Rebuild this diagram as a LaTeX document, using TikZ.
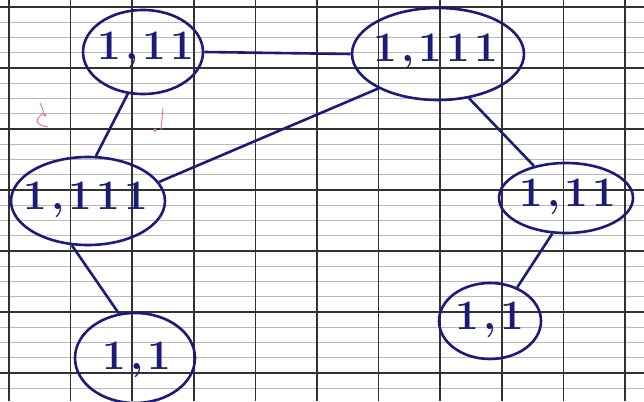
\documentclass[tikz,border=0pt]{standalone}
\usetikzlibrary{shapes.geometric}
\definecolor{ink}{RGB}{28,28,120}
\definecolor{rule}{RGB}{50,50,50}
\definecolor{fine}{RGB}{185,185,185}
\definecolor{redink}{RGB}{215,120,125}
\tikzset{
  vertex/.style={draw=ink, line width=2.6pt, ellipse, inner sep=0pt},
  vlabel/.style={text=ink, inner sep=0pt, font=\fontsize{42}{42}\selectfont\bfseries},
  edge/.style={draw=ink, line width=2.6pt},
}
\newcommand{\sep}{\kern0.1em}
\begin{document}
\begin{tikzpicture}[x=1pt,y=-1pt]
  \useasboundingbox (0,0) rectangle (644,401);
  \fill[white] (0,0) rectangle (644,401);
  % Seyes ruling: fine horizontal lines every 15.25, bold every fourth
  \foreach \k in {0,...,27} {
    \draw[fine, line width=0.6pt] (0,{7+15.25*\k-15.25}) -- (644,{7+15.25*\k-15.25});
  }
  \foreach \k in {0,...,6} {
    \draw[rule, line width=1.5pt] (0,{7+61*\k}) -- (644,{7+61*\k});
  }
  \foreach \k in {0,...,10} {
    \draw[rule, line width=1.5pt] ({9+61.6*\k},0) -- ({9+61.6*\k},401);
  }
  % faint red marks
  \draw[redink, line width=0.9pt] (40,103) .. controls (42,108) and (44,110) .. (43,114)
        .. controls (35,118) and (34,125) .. (48,127);
  \fill[redink] (45,115) circle (1.6);
  \draw[redink, line width=0.9pt] (163,108) -- (161,130);
  \fill[redink] (155,130) circle (1.8);

  % vertices (outline) and their labels
  \node[vertex, minimum width=120pt, minimum height=84pt] (a) at (143,52) {};
  \node[vertex, minimum width=172pt, minimum height=92pt] (b) at (438,54) {};
  \node[vertex, minimum width=154pt, minimum height=88pt] (c) at (88,201) {};
  \node[vertex, minimum width=134pt, minimum height=70pt] (d) at (566,198) {};
  \node[vertex, minimum width=120pt, minimum height=90pt] (e) at (135,358) {};
  \node[vertex, minimum width=102pt, minimum height=76pt] (f) at (490,321) {};
  \node[vlabel] (al) at (146,50) {1\sep,\sep1\sep1};
  \node[vlabel] (bl) at (436,52) {1\sep,\sep1\sep1\sep1};
  \node[vlabel] (cl) at (86,200) {1\sep,\sep1\sep1\sep1};
  \node[vlabel] (dl) at (568,197) {1\sep,\sep1\sep1};
  \node[vlabel] (el) at (137,360) {1\sep,\sep1};
  \node[vlabel] (fl) at (490,320) {1\sep,\sep1};

  % edges
  \draw[edge] (a.east) -- (b.west);
  \draw[edge] (a.250) -- (c.80);
  \draw[edge] (b.210) -- (c.15);
  \draw[edge] (b.305) -- (d.135);
  \draw[edge] (c.250) -- (e.110);
  \draw[edge] (d.249) -- (f.51);
\end{tikzpicture}
\end{document}
